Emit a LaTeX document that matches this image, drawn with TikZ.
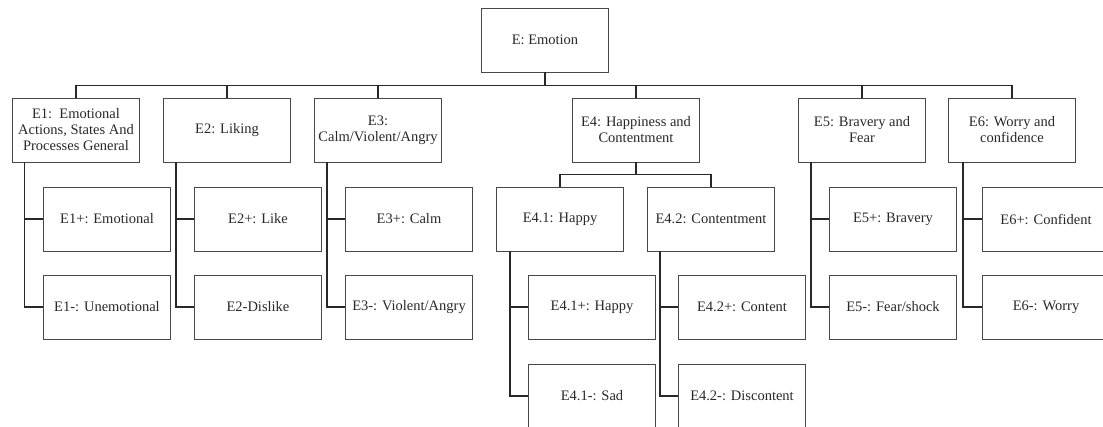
\documentclass[tikz,border=0pt]{standalone}
\usepackage{fontspec}
\setmainfont{Liberation Serif}
\usetikzlibrary{positioning}
\definecolor{ink}{RGB}{40,40,40}
\tikzset{
  cat/.style={draw=ink!85,line width=0.9pt,minimum width=127pt,minimum height=64pt,
    inner sep=2pt,align=center,font=\fontsize{14.5}{16}\selectfont,text=ink},
  link/.style={draw=ink,line width=1.4pt},
}

\begin{document}
\begin{tikzpicture}[x=1pt,y=-1pt]
  \useasboundingbox (0,0) rectangle (1103,426);
  \clip (0,0) rectangle (1103,426);
  % top
  \node[cat] (root) at (545,40) {E: Emotion};
  % main groups
  \node[cat] (e1) at (76,130) {E1:~~Emotional\\Actions, States And\\Processes General};
  \node[cat] (e2) at (227,130) {E2: Liking};
  \node[cat] (e3) at (378,130) {E3:\\Calm/Violent/Angry};
  \node[cat] (e4) at (636,130) {E4: Happiness and\\Contentment};
  \node[cat] (e5) at (862,130) {E5: Bravery and\\Fear};
  \node[cat] (e6) at (1012,130) {E6: Worry and\\confidence};
  \foreach \n in {e1,e2,e3,e4,e5,e6}
    \draw[link] (root.south) -- ++(0,13) -| (\n.north);
  % leaves
  \node[cat] (e1p) at (107,219) {E1+: Emotional};
  \node[cat] (e1m) at (107,307) {E1-: Unemotional};
  \node[cat] (e2p) at (258,219) {E2+: Like};
  \node[cat] (e2m) at (258,307) {E2-Dislike};
  \node[cat] (e3p) at (409,219) {E3+: Calm};
  \node[cat] (e3m) at (409,307) {E3-: Violent/Angry};
  \node[cat] (e5p) at (893,219) {E5+: Bravery};
  \node[cat] (e5m) at (893,307) {E5-: Fear/shock};
  \node[cat] (e6p) at (1046,219) {E6+: Confident};
  \node[cat] (e6m) at (1046,307) {E6-: Worry};
  % E4 subtree
  \node[cat] (e41) at (560,219) {E4.1: Happy};
  \node[cat] (e42) at (711,219) {E4.2: Contentment};
  \foreach \n in {e41,e42}
    \draw[link] (e4.south) -- ++(0,12) -| (\n.north);
  \node[cat] (e41p) at (592,307) {E4.1+: Happy};
  \node[cat] (e41m) at (592,396) {E4.1-: Sad};
  \node[cat] (e42p) at (742,307) {E4.2+: Content};
  \node[cat] (e42m) at (742,396) {E4.2-: Discontent};
  \foreach \p/\s in {e1/12.5,e2/13,e3/13,e5/13,e6/15,e41/14,e42/13} {
    \draw[link] ([xshift=\s pt]\p.south west) |- (\p p.west);
    \draw[link] ([xshift=\s pt]\p.south west) |- (\p m.west);
  }
\end{tikzpicture}
\end{document}
